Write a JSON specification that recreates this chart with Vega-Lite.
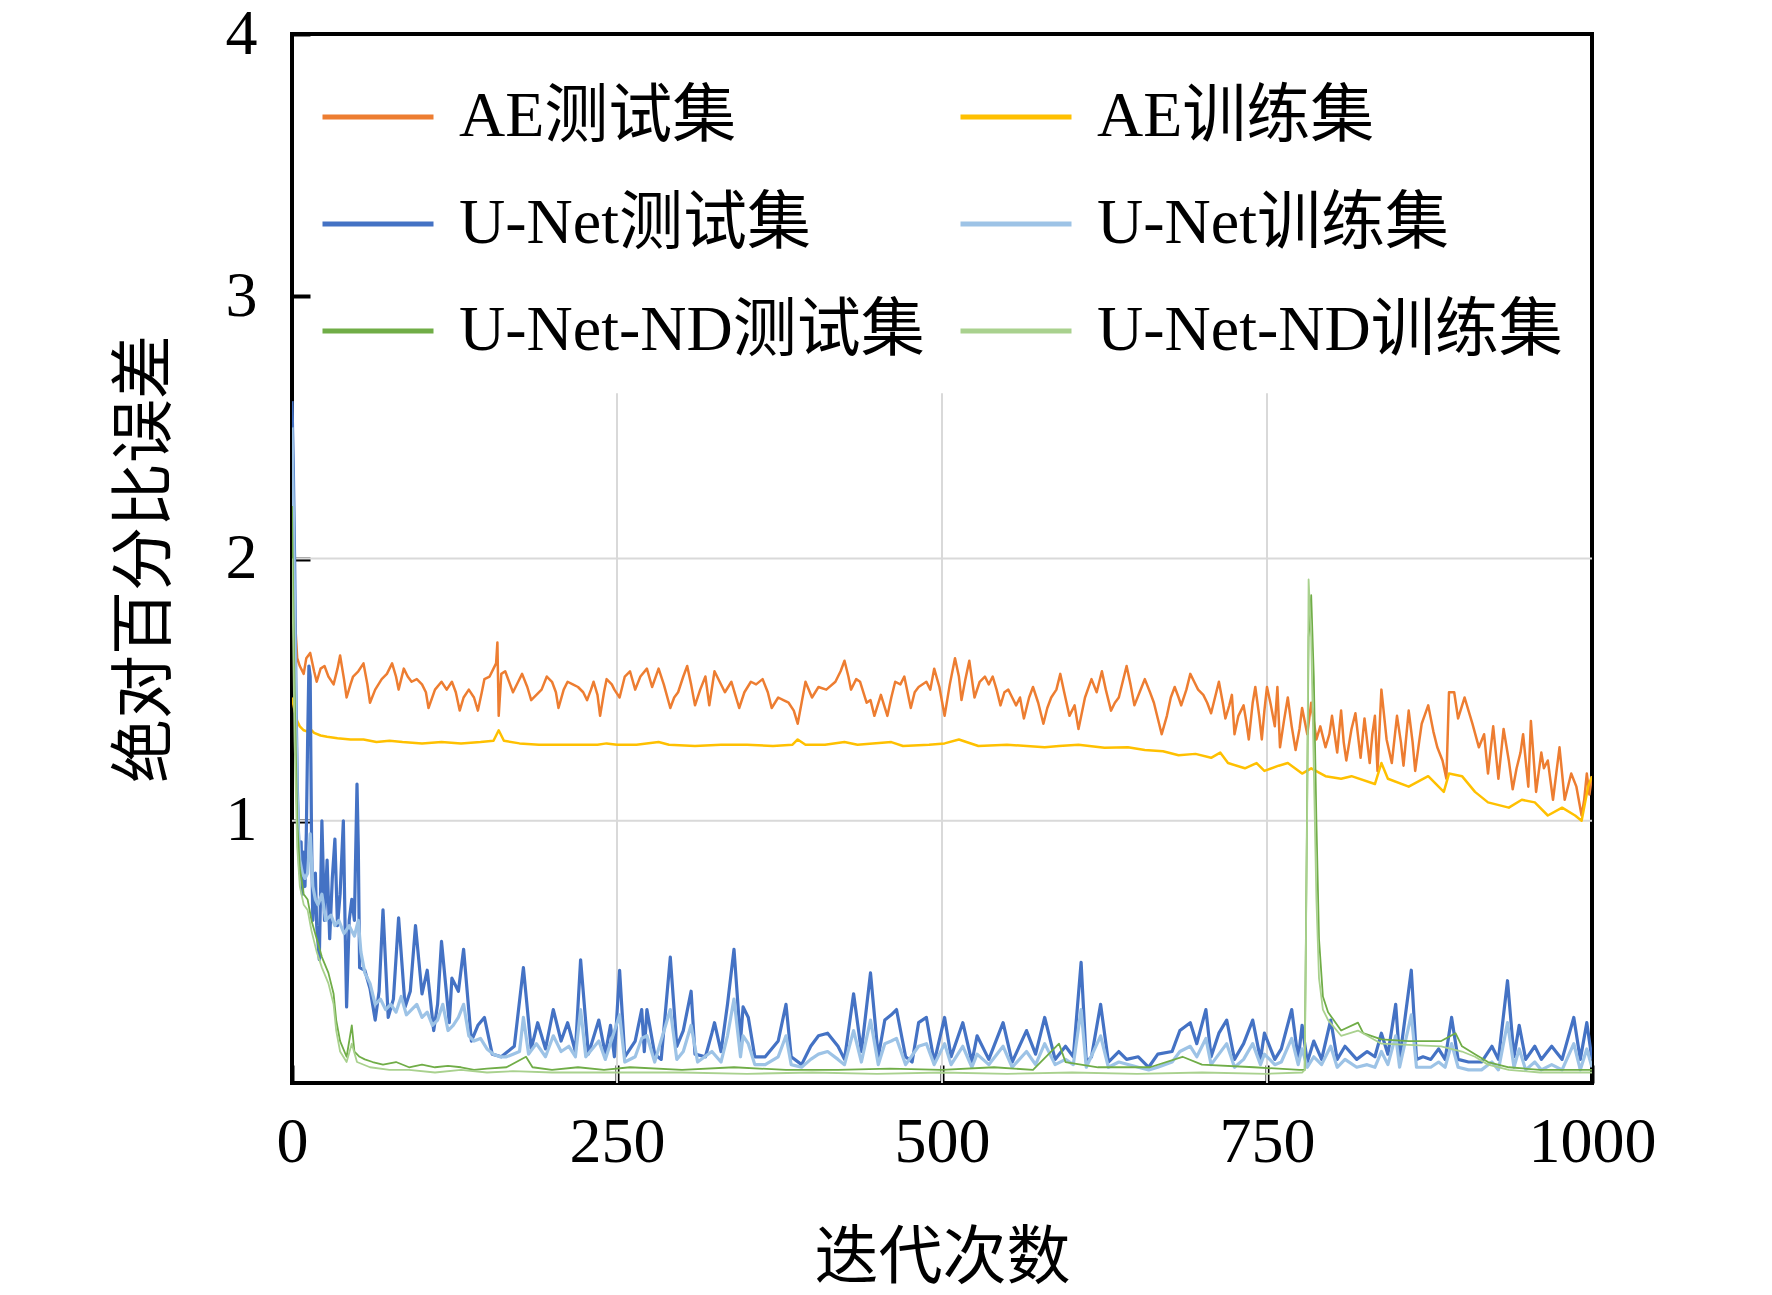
{
  "$schema": "https://vega.github.io/schema/vega-lite/v6.json",
  "width": 1300,
  "height": 1049,
  "autosize": "none",
  "padding": {"left": 292, "top": 34, "right": 180, "bottom": 212},
  "background": "white",
  "config": {
    "view": {"stroke": "black", "strokeWidth": 4},
    "axis": {"grid": false}
  },
  "datasets": {
    "grid_x": [{"g": 250}, {"g": 500}, {"g": 750}],
    "grid_y": [{"h": 1}, {"h": 2}],
    "curves": [
      {"name":"AE测试集","x":0,"y":1.75},{"name":"AE测试集","x":2,"y":1.79},{"name":"AE测试集","x":4,"y":1.62},{"name":"AE测试集","x":6,"y":1.59},{"name":"AE测试集","x":9,"y":1.56},{"name":"AE测试集","x":11,"y":1.62},{"name":"AE测试集","x":14,"y":1.64},{"name":"AE测试集","x":17,"y":1.57},{"name":"AE测试集","x":19,"y":1.53},{"name":"AE测试集","x":22,"y":1.58},{"name":"AE测试集","x":25,"y":1.59},{"name":"AE测试集","x":28,"y":1.55},{"name":"AE测试集","x":32,"y":1.52},{"name":"AE测试集","x":35,"y":1.58},{"name":"AE测试集","x":37,"y":1.63},{"name":"AE测试集","x":40,"y":1.54},{"name":"AE测试集","x":42,"y":1.47},{"name":"AE测试集","x":45,"y":1.52},{"name":"AE测试集","x":47,"y":1.55},{"name":"AE测试集","x":51,"y":1.57},{"name":"AE测试集","x":55,"y":1.6},{"name":"AE测试集","x":58,"y":1.52},{"name":"AE测试集","x":60,"y":1.45},{"name":"AE测试集","x":64,"y":1.5},{"name":"AE测试集","x":69,"y":1.54},{"name":"AE测试集","x":73,"y":1.56},{"name":"AE测试集","x":77,"y":1.6},{"name":"AE测试集","x":80,"y":1.55},{"name":"AE测试集","x":82,"y":1.5},{"name":"AE测试集","x":86,"y":1.58},{"name":"AE测试集","x":89,"y":1.55},{"name":"AE测试集","x":92,"y":1.53},{"name":"AE测试集","x":96,"y":1.54},{"name":"AE测试集","x":100,"y":1.52},{"name":"AE测试集","x":103,"y":1.49},{"name":"AE测试集","x":105,"y":1.43},{"name":"AE测试集","x":110,"y":1.5},{"name":"AE测试集","x":115,"y":1.53},{"name":"AE测试集","x":119,"y":1.5},{"name":"AE测试集","x":123,"y":1.53},{"name":"AE测试集","x":126,"y":1.49},{"name":"AE测试集","x":129,"y":1.42},{"name":"AE测试集","x":132,"y":1.47},{"name":"AE测试集","x":136,"y":1.5},{"name":"AE测试集","x":140,"y":1.47},{"name":"AE测试集","x":143,"y":1.42},{"name":"AE测试集","x":146,"y":1.49},{"name":"AE测试集","x":148,"y":1.54},{"name":"AE测试集","x":152,"y":1.55},{"name":"AE测试集","x":155,"y":1.58},{"name":"AE测试集","x":157,"y":1.6},{"name":"AE测试集","x":158,"y":1.68},{"name":"AE测试集","x":159,"y":1.4},{"name":"AE测试集","x":161,"y":1.56},{"name":"AE测试集","x":164,"y":1.57},{"name":"AE测试集","x":167,"y":1.53},{"name":"AE测试集","x":170,"y":1.49},{"name":"AE测试集","x":174,"y":1.53},{"name":"AE测试集","x":177,"y":1.56},{"name":"AE测试集","x":181,"y":1.51},{"name":"AE测试集","x":184,"y":1.46},{"name":"AE测试集","x":188,"y":1.48},{"name":"AE测试集","x":192,"y":1.5},{"name":"AE测试集","x":196,"y":1.55},{"name":"AE测试集","x":200,"y":1.53},{"name":"AE测试集","x":203,"y":1.49},{"name":"AE测试集","x":205,"y":1.43},{"name":"AE测试集","x":209,"y":1.5},{"name":"AE测试集","x":212,"y":1.53},{"name":"AE测试集","x":216,"y":1.52},{"name":"AE测试集","x":220,"y":1.51},{"name":"AE测试集","x":224,"y":1.49},{"name":"AE测试集","x":227,"y":1.46},{"name":"AE测试集","x":230,"y":1.5},{"name":"AE测试集","x":232,"y":1.53},{"name":"AE测试集","x":235,"y":1.48},{"name":"AE测试集","x":237,"y":1.4},{"name":"AE测试集","x":240,"y":1.49},{"name":"AE测试集","x":242,"y":1.54},{"name":"AE测试集","x":246,"y":1.52},{"name":"AE测试集","x":248,"y":1.5},{"name":"AE测试集","x":252,"y":1.47},{"name":"AE测试集","x":256,"y":1.55},{"name":"AE测试集","x":260,"y":1.57},{"name":"AE测试集","x":264,"y":1.5},{"name":"AE测试集","x":268,"y":1.55},{"name":"AE测试集","x":273,"y":1.58},{"name":"AE测试集","x":277,"y":1.51},{"name":"AE测试集","x":282,"y":1.58},{"name":"AE测试集","x":286,"y":1.52},{"name":"AE测试集","x":291,"y":1.43},{"name":"AE测试集","x":294,"y":1.47},{"name":"AE测试集","x":297,"y":1.49},{"name":"AE测试集","x":301,"y":1.55},{"name":"AE测试集","x":304,"y":1.59},{"name":"AE测试集","x":307,"y":1.52},{"name":"AE测试集","x":310,"y":1.44},{"name":"AE测试集","x":314,"y":1.5},{"name":"AE测试集","x":318,"y":1.55},{"name":"AE测试集","x":321,"y":1.44},{"name":"AE测试集","x":325,"y":1.57},{"name":"AE测试集","x":329,"y":1.53},{"name":"AE测试集","x":333,"y":1.49},{"name":"AE测试集","x":338,"y":1.53},{"name":"AE测试集","x":341,"y":1.48},{"name":"AE测试集","x":344,"y":1.43},{"name":"AE测试集","x":348,"y":1.49},{"name":"AE测试集","x":353,"y":1.53},{"name":"AE测试集","x":357,"y":1.52},{"name":"AE测试集","x":362,"y":1.54},{"name":"AE测试集","x":366,"y":1.49},{"name":"AE测试集","x":369,"y":1.43},{"name":"AE测试集","x":374,"y":1.47},{"name":"AE测试集","x":378,"y":1.46},{"name":"AE测试集","x":382,"y":1.45},{"name":"AE测试集","x":386,"y":1.42},{"name":"AE测试集","x":389,"y":1.37},{"name":"AE测试集","x":392,"y":1.45},{"name":"AE测试集","x":395,"y":1.53},{"name":"AE测试集","x":400,"y":1.47},{"name":"AE测试集","x":405,"y":1.51},{"name":"AE测试集","x":411,"y":1.5},{"name":"AE测试集","x":418,"y":1.53},{"name":"AE测试集","x":422,"y":1.57},{"name":"AE测试集","x":425,"y":1.61},{"name":"AE测试集","x":428,"y":1.55},{"name":"AE测试集","x":430,"y":1.5},{"name":"AE测试集","x":434,"y":1.54},{"name":"AE测试集","x":437,"y":1.53},{"name":"AE测试集","x":442,"y":1.45},{"name":"AE测试集","x":445,"y":1.46},{"name":"AE测试集","x":448,"y":1.4},{"name":"AE测试集","x":453,"y":1.48},{"name":"AE测试集","x":458,"y":1.4},{"name":"AE测试集","x":461,"y":1.47},{"name":"AE测试集","x":464,"y":1.53},{"name":"AE测试集","x":468,"y":1.52},{"name":"AE测试集","x":471,"y":1.55},{"name":"AE测试集","x":476,"y":1.43},{"name":"AE测试集","x":479,"y":1.49},{"name":"AE测试集","x":482,"y":1.51},{"name":"AE测试集","x":488,"y":1.53},{"name":"AE测试集","x":491,"y":1.5},{"name":"AE测试集","x":494,"y":1.58},{"name":"AE测试集","x":498,"y":1.51},{"name":"AE测试集","x":502,"y":1.4},{"name":"AE测试集","x":506,"y":1.52},{"name":"AE测试集","x":510,"y":1.62},{"name":"AE测试集","x":513,"y":1.55},{"name":"AE测试集","x":515,"y":1.46},{"name":"AE测试集","x":518,"y":1.54},{"name":"AE测试集","x":521,"y":1.61},{"name":"AE测试集","x":525,"y":1.47},{"name":"AE测试集","x":529,"y":1.53},{"name":"AE测试集","x":533,"y":1.55},{"name":"AE测试集","x":536,"y":1.52},{"name":"AE测试集","x":539,"y":1.55},{"name":"AE测试集","x":542,"y":1.5},{"name":"AE测试集","x":545,"y":1.44},{"name":"AE测试集","x":548,"y":1.49},{"name":"AE测试集","x":551,"y":1.5},{"name":"AE测试集","x":554,"y":1.47},{"name":"AE测试集","x":557,"y":1.44},{"name":"AE测试集","x":560,"y":1.47},{"name":"AE测试集","x":563,"y":1.39},{"name":"AE测试集","x":567,"y":1.47},{"name":"AE测试集","x":570,"y":1.51},{"name":"AE测试集","x":574,"y":1.45},{"name":"AE测试集","x":578,"y":1.37},{"name":"AE测试集","x":581,"y":1.43},{"name":"AE测试集","x":584,"y":1.47},{"name":"AE测试集","x":588,"y":1.5},{"name":"AE测试集","x":591,"y":1.56},{"name":"AE测试集","x":594,"y":1.49},{"name":"AE测试集","x":598,"y":1.4},{"name":"AE测试集","x":602,"y":1.44},{"name":"AE测试集","x":605,"y":1.35},{"name":"AE测试集","x":610,"y":1.47},{"name":"AE测试集","x":615,"y":1.54},{"name":"AE测试集","x":619,"y":1.49},{"name":"AE测试集","x":623,"y":1.57},{"name":"AE测试集","x":626,"y":1.5},{"name":"AE测试集","x":630,"y":1.42},{"name":"AE测试集","x":633,"y":1.45},{"name":"AE测试集","x":636,"y":1.47},{"name":"AE测试集","x":639,"y":1.53},{"name":"AE测试集","x":642,"y":1.59},{"name":"AE测试集","x":645,"y":1.52},{"name":"AE测试集","x":648,"y":1.44},{"name":"AE测试集","x":652,"y":1.49},{"name":"AE测试集","x":656,"y":1.54},{"name":"AE测试集","x":660,"y":1.49},{"name":"AE测试集","x":663,"y":1.45},{"name":"AE测试集","x":666,"y":1.39},{"name":"AE测试集","x":669,"y":1.33},{"name":"AE测试集","x":673,"y":1.4},{"name":"AE测试集","x":676,"y":1.47},{"name":"AE测试集","x":679,"y":1.51},{"name":"AE测试集","x":682,"y":1.47},{"name":"AE测试集","x":684,"y":1.44},{"name":"AE测试集","x":688,"y":1.5},{"name":"AE测试集","x":691,"y":1.56},{"name":"AE测试集","x":694,"y":1.53},{"name":"AE测试集","x":697,"y":1.5},{"name":"AE测试集","x":701,"y":1.48},{"name":"AE测试集","x":704,"y":1.45},{"name":"AE测试集","x":707,"y":1.41},{"name":"AE测试集","x":710,"y":1.47},{"name":"AE测试集","x":713,"y":1.53},{"name":"AE测试集","x":716,"y":1.45},{"name":"AE测试集","x":718,"y":1.39},{"name":"AE测试集","x":721,"y":1.44},{"name":"AE测试集","x":723,"y":1.48},{"name":"AE测试集","x":725,"y":1.33},{"name":"AE测试集","x":728,"y":1.4},{"name":"AE测试集","x":732,"y":1.44},{"name":"AE测试集","x":734,"y":1.38},{"name":"AE测试集","x":736,"y":1.31},{"name":"AE测试集","x":739,"y":1.45},{"name":"AE测试集","x":741,"y":1.51},{"name":"AE测试集","x":744,"y":1.4},{"name":"AE测试集","x":746,"y":1.31},{"name":"AE测试集","x":748,"y":1.42},{"name":"AE测试集","x":750,"y":1.51},{"name":"AE测试集","x":753,"y":1.44},{"name":"AE测试集","x":756,"y":1.36},{"name":"AE测试集","x":758,"y":1.51},{"name":"AE测试集","x":760,"y":1.28},{"name":"AE测试集","x":763,"y":1.38},{"name":"AE测试集","x":766,"y":1.47},{"name":"AE测试集","x":769,"y":1.36},{"name":"AE测试集","x":772,"y":1.27},{"name":"AE测试集","x":775,"y":1.35},{"name":"AE测试集","x":777,"y":1.43},{"name":"AE测试集","x":781,"y":1.33},{"name":"AE测试集","x":784,"y":1.45},{"name":"AE测试集","x":788,"y":1.31},{"name":"AE测试集","x":791,"y":1.36},{"name":"AE测试集","x":795,"y":1.28},{"name":"AE测试集","x":798,"y":1.33},{"name":"AE测试集","x":800,"y":1.4},{"name":"AE测试集","x":804,"y":1.26},{"name":"AE测试集","x":807,"y":1.42},{"name":"AE测试集","x":809,"y":1.3},{"name":"AE测试集","x":811,"y":1.23},{"name":"AE测试集","x":815,"y":1.35},{"name":"AE测试集","x":818,"y":1.41},{"name":"AE测试集","x":822,"y":1.24},{"name":"AE测试集","x":825,"y":1.39},{"name":"AE测试集","x":829,"y":1.22},{"name":"AE测试集","x":831,"y":1.33},{"name":"AE测试集","x":833,"y":1.4},{"name":"AE测试集","x":835,"y":1.19},{"name":"AE测试集","x":838,"y":1.5},{"name":"AE测试集","x":842,"y":1.31},{"name":"AE测试集","x":846,"y":1.22},{"name":"AE测试集","x":850,"y":1.4},{"name":"AE测试集","x":853,"y":1.3},{"name":"AE测试集","x":855,"y":1.21},{"name":"AE测试集","x":859,"y":1.42},{"name":"AE测试集","x":862,"y":1.3},{"name":"AE测试集","x":864,"y":1.19},{"name":"AE测试集","x":867,"y":1.3},{"name":"AE测试集","x":869,"y":1.37},{"name":"AE测试集","x":874,"y":1.44},{"name":"AE测试集","x":878,"y":1.34},{"name":"AE测试集","x":881,"y":1.28},{"name":"AE测试集","x":885,"y":1.23},{"name":"AE测试集","x":888,"y":1.16},{"name":"AE测试集","x":890,"y":1.49},{"name":"AE测试集","x":894,"y":1.49},{"name":"AE测试集","x":897,"y":1.39},{"name":"AE测试集","x":902,"y":1.47},{"name":"AE测试集","x":905,"y":1.42},{"name":"AE测试集","x":908,"y":1.37},{"name":"AE测试集","x":913,"y":1.28},{"name":"AE测试集","x":917,"y":1.33},{"name":"AE测试集","x":920,"y":1.18},{"name":"AE测试集","x":924,"y":1.36},{"name":"AE测试集","x":928,"y":1.16},{"name":"AE测试集","x":932,"y":1.35},{"name":"AE测试集","x":936,"y":1.23},{"name":"AE测试集","x":939,"y":1.12},{"name":"AE测试集","x":942,"y":1.2},{"name":"AE测试集","x":945,"y":1.26},{"name":"AE测试集","x":947,"y":1.33},{"name":"AE测试集","x":951,"y":1.13},{"name":"AE测试集","x":953,"y":1.38},{"name":"AE测试集","x":957,"y":1.11},{"name":"AE测试集","x":961,"y":1.26},{"name":"AE测试集","x":963,"y":1.2},{"name":"AE测试集","x":966,"y":1.23},{"name":"AE测试集","x":970,"y":1.08},{"name":"AE测试集","x":975,"y":1.28},{"name":"AE测试集","x":979,"y":1.08},{"name":"AE测试集","x":984,"y":1.18},{"name":"AE测试集","x":988,"y":1.13},{"name":"AE测试集","x":992,"y":1.02},{"name":"AE测试集","x":994,"y":1.08},{"name":"AE测试集","x":996,"y":1.18},{"name":"AE测试集","x":998,"y":1.1},{"name":"AE测试集","x":1000,"y":1.17},
      {"name":"AE训练集","x":0,"y":1.47},{"name":"AE训练集","x":2,"y":1.42},{"name":"AE训练集","x":4,"y":1.38},{"name":"AE训练集","x":6,"y":1.36},{"name":"AE训练集","x":9,"y":1.345},{"name":"AE训练集","x":12,"y":1.34},{"name":"AE训练集","x":14,"y":1.35},{"name":"AE训练集","x":17,"y":1.335},{"name":"AE训练集","x":22,"y":1.325},{"name":"AE训练集","x":27,"y":1.32},{"name":"AE训练集","x":35,"y":1.315},{"name":"AE训练集","x":45,"y":1.31},{"name":"AE训练集","x":55,"y":1.31},{"name":"AE训练集","x":65,"y":1.3},{"name":"AE训练集","x":75,"y":1.305},{"name":"AE训练集","x":85,"y":1.3},{"name":"AE训练集","x":100,"y":1.295},{"name":"AE训练集","x":115,"y":1.3},{"name":"AE训练集","x":130,"y":1.295},{"name":"AE训练集","x":145,"y":1.3},{"name":"AE训练集","x":155,"y":1.305},{"name":"AE训练集","x":159,"y":1.345},{"name":"AE训练集","x":163,"y":1.305},{"name":"AE训练集","x":175,"y":1.295},{"name":"AE训练集","x":190,"y":1.29},{"name":"AE训练集","x":205,"y":1.29},{"name":"AE训练集","x":220,"y":1.29},{"name":"AE训练集","x":235,"y":1.29},{"name":"AE训练集","x":242,"y":1.295},{"name":"AE训练集","x":250,"y":1.29},{"name":"AE训练集","x":265,"y":1.29},{"name":"AE训练集","x":282,"y":1.3},{"name":"AE训练集","x":290,"y":1.29},{"name":"AE训练集","x":310,"y":1.285},{"name":"AE训练集","x":330,"y":1.29},{"name":"AE训练集","x":350,"y":1.29},{"name":"AE训练集","x":370,"y":1.285},{"name":"AE训练集","x":385,"y":1.29},{"name":"AE训练集","x":389,"y":1.31},{"name":"AE训练集","x":395,"y":1.29},{"name":"AE训练集","x":410,"y":1.29},{"name":"AE训练集","x":425,"y":1.3},{"name":"AE训练集","x":435,"y":1.29},{"name":"AE训练集","x":461,"y":1.3},{"name":"AE训练集","x":470,"y":1.285},{"name":"AE训练集","x":490,"y":1.29},{"name":"AE训练集","x":502,"y":1.295},{"name":"AE训练集","x":513,"y":1.31},{"name":"AE训练集","x":528,"y":1.285},{"name":"AE训练集","x":550,"y":1.29},{"name":"AE训练集","x":579,"y":1.28},{"name":"AE训练集","x":590,"y":1.285},{"name":"AE训练集","x":605,"y":1.29},{"name":"AE训练集","x":625,"y":1.278},{"name":"AE训练集","x":643,"y":1.28},{"name":"AE训练集","x":656,"y":1.27},{"name":"AE训练集","x":670,"y":1.265},{"name":"AE训练集","x":682,"y":1.25},{"name":"AE训练集","x":695,"y":1.255},{"name":"AE训练集","x":707,"y":1.24},{"name":"AE训练集","x":714,"y":1.26},{"name":"AE训练集","x":720,"y":1.22},{"name":"AE训练集","x":733,"y":1.2},{"name":"AE训练集","x":742,"y":1.22},{"name":"AE训练集","x":748,"y":1.19},{"name":"AE训练集","x":759,"y":1.21},{"name":"AE训练集","x":766,"y":1.22},{"name":"AE训练集","x":777,"y":1.18},{"name":"AE训练集","x":784,"y":1.2},{"name":"AE训练集","x":795,"y":1.17},{"name":"AE训练集","x":807,"y":1.16},{"name":"AE训练集","x":815,"y":1.17},{"name":"AE训练集","x":833,"y":1.14},{"name":"AE训练集","x":838,"y":1.22},{"name":"AE训练集","x":843,"y":1.16},{"name":"AE训练集","x":859,"y":1.13},{"name":"AE训练集","x":874,"y":1.17},{"name":"AE训练集","x":886,"y":1.11},{"name":"AE训练集","x":890,"y":1.18},{"name":"AE训练集","x":900,"y":1.17},{"name":"AE训练集","x":910,"y":1.11},{"name":"AE训练集","x":920,"y":1.07},{"name":"AE训练集","x":936,"y":1.05},{"name":"AE训练集","x":946,"y":1.08},{"name":"AE训练集","x":956,"y":1.07},{"name":"AE训练集","x":966,"y":1.02},{"name":"AE训练集","x":977,"y":1.05},{"name":"AE训练集","x":987,"y":1.02},{"name":"AE训练集","x":992,"y":1.0},{"name":"AE训练集","x":997,"y":1.13},{"name":"AE训练集","x":1000,"y":1.17},
      {"name":"U-Net测试集","x":0,"y":2.6},{"name":"U-Net测试集","x":1,"y":2.35},{"name":"U-Net测试集","x":2,"y":2.0},{"name":"U-Net测试集","x":3,"y":1.5},{"name":"U-Net测试集","x":4,"y":1.15},{"name":"U-Net测试集","x":5,"y":0.95},{"name":"U-Net测试集","x":6,"y":0.8},{"name":"U-Net测试集","x":7,"y":0.92},{"name":"U-Net测试集","x":8,"y":0.72},{"name":"U-Net测试集","x":9,"y":0.88},{"name":"U-Net测试集","x":10,"y":0.75},{"name":"U-Net测试集","x":11,"y":0.95},{"name":"U-Net测试集","x":12,"y":1.3},{"name":"U-Net测试集","x":13,"y":1.59},{"name":"U-Net测试集","x":14,"y":1.55},{"name":"U-Net测试集","x":15,"y":0.95},{"name":"U-Net测试集","x":16,"y":0.62},{"name":"U-Net测试集","x":18,"y":0.8},{"name":"U-Net测试集","x":19,"y":0.6},{"name":"U-Net测试集","x":21,"y":0.47},{"name":"U-Net测试集","x":23,"y":1.0},{"name":"U-Net测试集","x":25,"y":0.62},{"name":"U-Net测试集","x":27,"y":0.85},{"name":"U-Net测试集","x":29,"y":0.55},{"name":"U-Net测试集","x":31,"y":0.78},{"name":"U-Net测试集","x":33,"y":0.93},{"name":"U-Net测试集","x":35,"y":0.6},{"name":"U-Net测试集","x":37,"y":0.72},{"name":"U-Net测试集","x":39.5,"y":1.0},{"name":"U-Net测试集","x":41,"y":0.55},{"name":"U-Net测试集","x":42,"y":0.29},{"name":"U-Net测试集","x":44,"y":0.62},{"name":"U-Net测试集","x":46,"y":0.7},{"name":"U-Net测试集","x":48,"y":0.62},{"name":"U-Net测试集","x":50,"y":1.14},{"name":"U-Net测试集","x":51,"y":0.9},{"name":"U-Net测试集","x":52,"y":0.44},{"name":"U-Net测试集","x":56,"y":0.43},{"name":"U-Net测试集","x":60,"y":0.36},{"name":"U-Net测试集","x":64,"y":0.24},{"name":"U-Net测试集","x":67,"y":0.35},{"name":"U-Net测试集","x":70,"y":0.66},{"name":"U-Net测试集","x":74,"y":0.25},{"name":"U-Net测试集","x":78,"y":0.32},{"name":"U-Net测试集","x":82,"y":0.63},{"name":"U-Net测试集","x":87,"y":0.29},{"name":"U-Net测试集","x":91,"y":0.35},{"name":"U-Net测试集","x":95,"y":0.6},{"name":"U-Net测试集","x":100,"y":0.34},{"name":"U-Net测试集","x":104,"y":0.43},{"name":"U-Net测试集","x":109,"y":0.2},{"name":"U-Net测试集","x":112,"y":0.3},{"name":"U-Net测试集","x":115,"y":0.54},{"name":"U-Net测试集","x":121,"y":0.23},{"name":"U-Net测试集","x":123,"y":0.4},{"name":"U-Net测试集","x":128,"y":0.35},{"name":"U-Net测试集","x":132,"y":0.51},{"name":"U-Net测试集","x":138,"y":0.16},{"name":"U-Net测试集","x":143,"y":0.22},{"name":"U-Net测试集","x":148,"y":0.25},{"name":"U-Net测试集","x":154,"y":0.11},{"name":"U-Net测试集","x":161,"y":0.1},{"name":"U-Net测试集","x":166,"y":0.12},{"name":"U-Net测试集","x":171,"y":0.14},{"name":"U-Net测试集","x":178,"y":0.44},{"name":"U-Net测试集","x":184,"y":0.13},{"name":"U-Net测试集","x":189,"y":0.23},{"name":"U-Net测试集","x":195,"y":0.13},{"name":"U-Net测试集","x":201,"y":0.28},{"name":"U-Net测试集","x":207,"y":0.16},{"name":"U-Net测试集","x":212,"y":0.23},{"name":"U-Net测试集","x":218,"y":0.12},{"name":"U-Net测试集","x":222,"y":0.47},{"name":"U-Net测试集","x":228,"y":0.11},{"name":"U-Net测试集","x":236,"y":0.24},{"name":"U-Net测试集","x":241,"y":0.11},{"name":"U-Net测试集","x":245,"y":0.22},{"name":"U-Net测试集","x":248,"y":0.1},{"name":"U-Net测试集","x":252,"y":0.43},{"name":"U-Net测试集","x":256,"y":0.1},{"name":"U-Net测试集","x":264,"y":0.16},{"name":"U-Net测试集","x":269,"y":0.28},{"name":"U-Net测试集","x":271,"y":0.12},{"name":"U-Net测试集","x":273,"y":0.28},{"name":"U-Net测试集","x":279,"y":0.11},{"name":"U-Net测试集","x":284,"y":0.09},{"name":"U-Net测试集","x":291,"y":0.48},{"name":"U-Net测试集","x":296,"y":0.14},{"name":"U-Net测试集","x":301,"y":0.2},{"name":"U-Net测试集","x":307,"y":0.35},{"name":"U-Net测试集","x":310,"y":0.11},{"name":"U-Net测试集","x":318,"y":0.1},{"name":"U-Net测试集","x":323,"y":0.19},{"name":"U-Net测试集","x":325,"y":0.23},{"name":"U-Net测试集","x":330,"y":0.12},{"name":"U-Net测试集","x":335,"y":0.3},{"name":"U-Net测试集","x":340,"y":0.51},{"name":"U-Net测试集","x":345,"y":0.16},{"name":"U-Net测试集","x":347,"y":0.29},{"name":"U-Net测试集","x":351,"y":0.25},{"name":"U-Net测试集","x":356,"y":0.1},{"name":"U-Net测试集","x":364,"y":0.1},{"name":"U-Net测试集","x":374,"y":0.16},{"name":"U-Net测试集","x":380,"y":0.3},{"name":"U-Net测试集","x":384,"y":0.1},{"name":"U-Net测试集","x":392,"y":0.07},{"name":"U-Net测试集","x":399,"y":0.14},{"name":"U-Net测试集","x":405,"y":0.18},{"name":"U-Net测试集","x":412,"y":0.19},{"name":"U-Net测试集","x":420,"y":0.14},{"name":"U-Net测试集","x":425,"y":0.09},{"name":"U-Net测试集","x":432,"y":0.34},{"name":"U-Net测试集","x":438,"y":0.12},{"name":"U-Net测试集","x":445,"y":0.42},{"name":"U-Net测试集","x":451,"y":0.1},{"name":"U-Net测试集","x":456,"y":0.24},{"name":"U-Net测试集","x":461,"y":0.26},{"name":"U-Net测试集","x":465,"y":0.28},{"name":"U-Net测试集","x":472,"y":0.1},{"name":"U-Net测试集","x":477,"y":0.08},{"name":"U-Net测试集","x":482,"y":0.23},{"name":"U-Net测试集","x":488,"y":0.25},{"name":"U-Net测试集","x":494,"y":0.08},{"name":"U-Net测试集","x":502,"y":0.25},{"name":"U-Net测试集","x":507,"y":0.1},{"name":"U-Net测试集","x":516,"y":0.23},{"name":"U-Net测试集","x":523,"y":0.08},{"name":"U-Net测试集","x":527,"y":0.18},{"name":"U-Net测试集","x":536,"y":0.09},{"name":"U-Net测试集","x":547,"y":0.23},{"name":"U-Net测试集","x":554,"y":0.08},{"name":"U-Net测试集","x":565,"y":0.2},{"name":"U-Net测试集","x":572,"y":0.11},{"name":"U-Net测试集","x":579,"y":0.25},{"name":"U-Net测试集","x":587,"y":0.09},{"name":"U-Net测试集","x":595,"y":0.14},{"name":"U-Net测试集","x":601,"y":0.1},{"name":"U-Net测试集","x":607,"y":0.46},{"name":"U-Net测试集","x":611,"y":0.08},{"name":"U-Net测试集","x":615,"y":0.1},{"name":"U-Net测试集","x":622,"y":0.3},{"name":"U-Net测试集","x":628,"y":0.08},{"name":"U-Net测试集","x":636,"y":0.12},{"name":"U-Net测试集","x":642,"y":0.09},{"name":"U-Net测试集","x":651,"y":0.1},{"name":"U-Net测试集","x":659,"y":0.06},{"name":"U-Net测试集","x":666,"y":0.11},{"name":"U-Net测试集","x":677,"y":0.12},{"name":"U-Net测试集","x":683,"y":0.2},{"name":"U-Net测试集","x":691,"y":0.23},{"name":"U-Net测试集","x":696,"y":0.15},{"name":"U-Net测试集","x":703,"y":0.28},{"name":"U-Net测试集","x":707,"y":0.1},{"name":"U-Net测试集","x":713,"y":0.19},{"name":"U-Net测试集","x":719,"y":0.24},{"name":"U-Net测试集","x":725,"y":0.09},{"name":"U-Net测试集","x":732,"y":0.15},{"name":"U-Net测试集","x":739,"y":0.24},{"name":"U-Net测试集","x":745,"y":0.09},{"name":"U-Net测试集","x":748,"y":0.19},{"name":"U-Net测试集","x":756,"y":0.09},{"name":"U-Net测试集","x":761,"y":0.13},{"name":"U-Net测试集","x":769,"y":0.28},{"name":"U-Net测试集","x":774,"y":0.09},{"name":"U-Net测试集","x":777,"y":0.22},{"name":"U-Net测试集","x":781,"y":0.08},{"name":"U-Net测试集","x":786,"y":0.16},{"name":"U-Net测试集","x":792,"y":0.09},{"name":"U-Net测试集","x":799,"y":0.24},{"name":"U-Net测试集","x":804,"y":0.09},{"name":"U-Net测试集","x":810,"y":0.14},{"name":"U-Net测试集","x":819,"y":0.09},{"name":"U-Net测试集","x":827,"y":0.12},{"name":"U-Net测试集","x":833,"y":0.1},{"name":"U-Net测试集","x":838,"y":0.19},{"name":"U-Net测试集","x":843,"y":0.11},{"name":"U-Net测试集","x":849,"y":0.3},{"name":"U-Net测试集","x":852,"y":0.09},{"name":"U-Net测试集","x":861,"y":0.43},{"name":"U-Net测试集","x":865,"y":0.09},{"name":"U-Net测试集","x":870,"y":0.1},{"name":"U-Net测试集","x":876,"y":0.09},{"name":"U-Net测试集","x":882,"y":0.13},{"name":"U-Net测试集","x":887,"y":0.09},{"name":"U-Net测试集","x":892,"y":0.25},{"name":"U-Net测试集","x":897,"y":0.09},{"name":"U-Net测试集","x":905,"y":0.08},{"name":"U-Net测试集","x":915,"y":0.08},{"name":"U-Net测试集","x":923,"y":0.14},{"name":"U-Net测试集","x":928,"y":0.09},{"name":"U-Net测试集","x":935,"y":0.39},{"name":"U-Net测试集","x":940,"y":0.1},{"name":"U-Net测试集","x":944,"y":0.22},{"name":"U-Net测试集","x":949,"y":0.09},{"name":"U-Net测试集","x":956,"y":0.14},{"name":"U-Net测试集","x":961,"y":0.09},{"name":"U-Net测试集","x":969,"y":0.14},{"name":"U-Net测试集","x":977,"y":0.09},{"name":"U-Net测试集","x":986,"y":0.25},{"name":"U-Net测试集","x":991,"y":0.09},{"name":"U-Net测试集","x":996,"y":0.23},{"name":"U-Net测试集","x":1000,"y":0.09},
      {"name":"U-Net训练集","x":0,"y":2.5},{"name":"U-Net训练集","x":1,"y":2.2},{"name":"U-Net训练集","x":2,"y":1.8},{"name":"U-Net训练集","x":3,"y":1.4},{"name":"U-Net训练集","x":4,"y":1.1},{"name":"U-Net训练集","x":5,"y":0.95},{"name":"U-Net训练集","x":6,"y":0.85},{"name":"U-Net训练集","x":8,"y":0.8},{"name":"U-Net训练集","x":10,"y":0.78},{"name":"U-Net训练集","x":12,"y":0.8},{"name":"U-Net训练集","x":14,"y":0.95},{"name":"U-Net训练集","x":16,"y":0.75},{"name":"U-Net训练集","x":18,"y":0.7},{"name":"U-Net训练集","x":20,"y":0.68},{"name":"U-Net训练集","x":23,"y":0.72},{"name":"U-Net训练集","x":26,"y":0.62},{"name":"U-Net训练集","x":30,"y":0.64},{"name":"U-Net训练集","x":33,"y":0.6},{"name":"U-Net训练集","x":36,"y":0.62},{"name":"U-Net训练集","x":40,"y":0.57},{"name":"U-Net训练集","x":44,"y":0.6},{"name":"U-Net训练集","x":48,"y":0.56},{"name":"U-Net训练集","x":51,"y":0.62},{"name":"U-Net训练集","x":53,"y":0.5},{"name":"U-Net训练集","x":56,"y":0.42},{"name":"U-Net训练集","x":60,"y":0.38},{"name":"U-Net训练集","x":64,"y":0.3},{"name":"U-Net训练集","x":68,"y":0.32},{"name":"U-Net训练集","x":72,"y":0.28},{"name":"U-Net训练集","x":76,"y":0.3},{"name":"U-Net训练集","x":80,"y":0.27},{"name":"U-Net训练集","x":84,"y":0.33},{"name":"U-Net训练集","x":88,"y":0.26},{"name":"U-Net训练集","x":92,"y":0.28},{"name":"U-Net训练集","x":96,"y":0.3},{"name":"U-Net训练集","x":100,"y":0.25},{"name":"U-Net训练集","x":104,"y":0.27},{"name":"U-Net训练集","x":108,"y":0.22},{"name":"U-Net训练集","x":112,"y":0.24},{"name":"U-Net训练集","x":116,"y":0.3},{"name":"U-Net训练集","x":120,"y":0.2},{"name":"U-Net训练集","x":124,"y":0.22},{"name":"U-Net训练集","x":128,"y":0.25},{"name":"U-Net训练集","x":132,"y":0.3},{"name":"U-Net训练集","x":136,"y":0.18},{"name":"U-Net训练集","x":140,"y":0.16},{"name":"U-Net训练集","x":145,"y":0.17},{"name":"U-Net训练集","x":150,"y":0.13},{"name":"U-Net训练集","x":155,"y":0.11},{"name":"U-Net训练集","x":160,"y":0.1},{"name":"U-Net训练集","x":165,"y":0.1},{"name":"U-Net训练集","x":170,"y":0.11},{"name":"U-Net训练集","x":175,"y":0.12},{"name":"U-Net训练集","x":178,"y":0.25},{"name":"U-Net训练集","x":182,"y":0.11},{"name":"U-Net训练集","x":188,"y":0.15},{"name":"U-Net训练集","x":195,"y":0.1},{"name":"U-Net训练集","x":201,"y":0.18},{"name":"U-Net训练集","x":207,"y":0.12},{"name":"U-Net训练集","x":213,"y":0.14},{"name":"U-Net训练集","x":218,"y":0.1},{"name":"U-Net训练集","x":222,"y":0.28},{"name":"U-Net训练集","x":226,"y":0.1},{"name":"U-Net训练集","x":236,"y":0.16},{"name":"U-Net训练集","x":241,"y":0.09},{"name":"U-Net训练集","x":252,"y":0.26},{"name":"U-Net训练集","x":256,"y":0.08},{"name":"U-Net训练集","x":264,"y":0.1},{"name":"U-Net训练集","x":269,"y":0.17},{"name":"U-Net训练集","x":273,"y":0.18},{"name":"U-Net训练集","x":279,"y":0.08},{"name":"U-Net训练集","x":291,"y":0.28},{"name":"U-Net训练集","x":296,"y":0.09},{"name":"U-Net训练集","x":301,"y":0.12},{"name":"U-Net训练集","x":307,"y":0.22},{"name":"U-Net训练集","x":312,"y":0.08},{"name":"U-Net训练集","x":323,"y":0.12},{"name":"U-Net训练集","x":330,"y":0.08},{"name":"U-Net训练集","x":335,"y":0.18},{"name":"U-Net训练集","x":340,"y":0.32},{"name":"U-Net训练集","x":345,"y":0.1},{"name":"U-Net训练集","x":347,"y":0.18},{"name":"U-Net训练集","x":351,"y":0.15},{"name":"U-Net训练集","x":356,"y":0.07},{"name":"U-Net训练集","x":364,"y":0.07},{"name":"U-Net训练集","x":374,"y":0.1},{"name":"U-Net训练集","x":380,"y":0.18},{"name":"U-Net训练集","x":384,"y":0.07},{"name":"U-Net训练集","x":392,"y":0.06},{"name":"U-Net训练集","x":399,"y":0.09},{"name":"U-Net训练集","x":405,"y":0.11},{"name":"U-Net训练集","x":412,"y":0.12},{"name":"U-Net训练集","x":420,"y":0.09},{"name":"U-Net训练集","x":425,"y":0.07},{"name":"U-Net训练集","x":432,"y":0.2},{"name":"U-Net训练集","x":438,"y":0.08},{"name":"U-Net训练集","x":445,"y":0.24},{"name":"U-Net训练集","x":451,"y":0.07},{"name":"U-Net训练集","x":456,"y":0.15},{"name":"U-Net训练集","x":461,"y":0.16},{"name":"U-Net训练集","x":465,"y":0.17},{"name":"U-Net训练集","x":472,"y":0.07},{"name":"U-Net训练集","x":482,"y":0.14},{"name":"U-Net训练集","x":488,"y":0.15},{"name":"U-Net训练集","x":494,"y":0.07},{"name":"U-Net训练集","x":502,"y":0.15},{"name":"U-Net训练集","x":507,"y":0.07},{"name":"U-Net训练集","x":516,"y":0.14},{"name":"U-Net训练集","x":523,"y":0.06},{"name":"U-Net训练集","x":527,"y":0.11},{"name":"U-Net训练集","x":536,"y":0.07},{"name":"U-Net训练集","x":547,"y":0.14},{"name":"U-Net训练集","x":554,"y":0.06},{"name":"U-Net训练集","x":565,"y":0.12},{"name":"U-Net训练集","x":572,"y":0.07},{"name":"U-Net训练集","x":579,"y":0.15},{"name":"U-Net训练集","x":587,"y":0.07},{"name":"U-Net训练集","x":595,"y":0.09},{"name":"U-Net训练集","x":601,"y":0.07},{"name":"U-Net训练集","x":607,"y":0.28},{"name":"U-Net训练集","x":611,"y":0.06},{"name":"U-Net训练集","x":622,"y":0.18},{"name":"U-Net训练集","x":628,"y":0.06},{"name":"U-Net训练集","x":636,"y":0.08},{"name":"U-Net训练集","x":651,"y":0.06},{"name":"U-Net训练集","x":659,"y":0.05},{"name":"U-Net训练集","x":666,"y":0.06},{"name":"U-Net训练集","x":677,"y":0.08},{"name":"U-Net训练集","x":683,"y":0.12},{"name":"U-Net训练集","x":691,"y":0.14},{"name":"U-Net训练集","x":696,"y":0.1},{"name":"U-Net训练集","x":703,"y":0.17},{"name":"U-Net训练集","x":707,"y":0.07},{"name":"U-Net训练集","x":713,"y":0.11},{"name":"U-Net训练集","x":719,"y":0.15},{"name":"U-Net训练集","x":725,"y":0.06},{"name":"U-Net训练集","x":732,"y":0.09},{"name":"U-Net训练集","x":739,"y":0.15},{"name":"U-Net训练集","x":745,"y":0.07},{"name":"U-Net训练集","x":748,"y":0.11},{"name":"U-Net训练集","x":756,"y":0.07},{"name":"U-Net训练集","x":761,"y":0.08},{"name":"U-Net训练集","x":769,"y":0.17},{"name":"U-Net训练集","x":774,"y":0.07},{"name":"U-Net训练集","x":777,"y":0.13},{"name":"U-Net训练集","x":781,"y":0.06},{"name":"U-Net训练集","x":786,"y":0.1},{"name":"U-Net训练集","x":792,"y":0.07},{"name":"U-Net训练集","x":799,"y":0.14},{"name":"U-Net训练集","x":804,"y":0.06},{"name":"U-Net训练集","x":810,"y":0.09},{"name":"U-Net训练集","x":819,"y":0.06},{"name":"U-Net训练集","x":827,"y":0.07},{"name":"U-Net训练集","x":833,"y":0.06},{"name":"U-Net训练集","x":838,"y":0.12},{"name":"U-Net训练集","x":843,"y":0.07},{"name":"U-Net训练集","x":849,"y":0.18},{"name":"U-Net训练集","x":852,"y":0.06},{"name":"U-Net训练集","x":861,"y":0.26},{"name":"U-Net训练集","x":865,"y":0.06},{"name":"U-Net训练集","x":876,"y":0.06},{"name":"U-Net训练集","x":882,"y":0.08},{"name":"U-Net训练集","x":887,"y":0.06},{"name":"U-Net训练集","x":892,"y":0.15},{"name":"U-Net训练集","x":897,"y":0.06},{"name":"U-Net训练集","x":905,"y":0.05},{"name":"U-Net训练集","x":915,"y":0.05},{"name":"U-Net训练集","x":923,"y":0.08},{"name":"U-Net训练集","x":928,"y":0.05},{"name":"U-Net训练集","x":935,"y":0.23},{"name":"U-Net训练集","x":940,"y":0.06},{"name":"U-Net训练集","x":944,"y":0.13},{"name":"U-Net训练集","x":949,"y":0.05},{"name":"U-Net训练集","x":956,"y":0.08},{"name":"U-Net训练集","x":961,"y":0.05},{"name":"U-Net训练集","x":969,"y":0.07},{"name":"U-Net训练集","x":977,"y":0.05},{"name":"U-Net训练集","x":986,"y":0.15},{"name":"U-Net训练集","x":991,"y":0.05},{"name":"U-Net训练集","x":996,"y":0.13},{"name":"U-Net训练集","x":1000,"y":0.06},
      {"name":"U-Net-ND测试集","x":0,"y":2.2},{"name":"U-Net-ND测试集","x":2,"y":1.5},{"name":"U-Net-ND测试集","x":4,"y":1.0},{"name":"U-Net-ND测试集","x":6,"y":0.82},{"name":"U-Net-ND测试集","x":9,"y":0.72},{"name":"U-Net-ND测试集","x":12,"y":0.7},{"name":"U-Net-ND测试集","x":15,"y":0.62},{"name":"U-Net-ND测试集","x":19,"y":0.55},{"name":"U-Net-ND测试集","x":23,"y":0.48},{"name":"U-Net-ND测试集","x":28,"y":0.42},{"name":"U-Net-ND测试集","x":32,"y":0.34},{"name":"U-Net-ND测试集","x":34,"y":0.24},{"name":"U-Net-ND测试集","x":37,"y":0.16},{"name":"U-Net-ND测试集","x":42,"y":0.1},{"name":"U-Net-ND测试集","x":46,"y":0.22},{"name":"U-Net-ND测试集","x":48,"y":0.12},{"name":"U-Net-ND测试集","x":52,"y":0.1},{"name":"U-Net-ND测试集","x":56,"y":0.09},{"name":"U-Net-ND测试集","x":62,"y":0.08},{"name":"U-Net-ND测试集","x":70,"y":0.07},{"name":"U-Net-ND测试集","x":80,"y":0.08},{"name":"U-Net-ND测试集","x":90,"y":0.06},{"name":"U-Net-ND测试集","x":100,"y":0.07},{"name":"U-Net-ND测试集","x":110,"y":0.06},{"name":"U-Net-ND测试集","x":120,"y":0.065},{"name":"U-Net-ND测试集","x":130,"y":0.06},{"name":"U-Net-ND测试集","x":140,"y":0.05},{"name":"U-Net-ND测试集","x":150,"y":0.055},{"name":"U-Net-ND测试集","x":165,"y":0.06},{"name":"U-Net-ND测试集","x":180,"y":0.1},{"name":"U-Net-ND测试集","x":185,"y":0.06},{"name":"U-Net-ND测试集","x":200,"y":0.05},{"name":"U-Net-ND测试集","x":220,"y":0.06},{"name":"U-Net-ND测试集","x":240,"y":0.05},{"name":"U-Net-ND测试集","x":260,"y":0.06},{"name":"U-Net-ND测试集","x":300,"y":0.05},{"name":"U-Net-ND测试集","x":340,"y":0.06},{"name":"U-Net-ND测试集","x":380,"y":0.05},{"name":"U-Net-ND测试集","x":420,"y":0.05},{"name":"U-Net-ND测试集","x":460,"y":0.055},{"name":"U-Net-ND测试集","x":500,"y":0.05},{"name":"U-Net-ND测试集","x":540,"y":0.06},{"name":"U-Net-ND测试集","x":570,"y":0.05},{"name":"U-Net-ND测试集","x":590,"y":0.15},{"name":"U-Net-ND测试集","x":595,"y":0.08},{"name":"U-Net-ND测试集","x":620,"y":0.06},{"name":"U-Net-ND测试集","x":660,"y":0.06},{"name":"U-Net-ND测试集","x":685,"y":0.1},{"name":"U-Net-ND测试集","x":700,"y":0.07},{"name":"U-Net-ND测试集","x":740,"y":0.06},{"name":"U-Net-ND测试集","x":775,"y":0.05},{"name":"U-Net-ND测试集","x":779,"y":0.05},{"name":"U-Net-ND测试集","x":780,"y":0.6},{"name":"U-Net-ND测试集","x":782,"y":1.7},{"name":"U-Net-ND测试集","x":784,"y":1.86},{"name":"U-Net-ND测试集","x":786,"y":1.55},{"name":"U-Net-ND测试集","x":788,"y":1.0},{"name":"U-Net-ND测试集","x":790,"y":0.55},{"name":"U-Net-ND测试集","x":793,"y":0.33},{"name":"U-Net-ND测试集","x":797,"y":0.27},{"name":"U-Net-ND测试集","x":807,"y":0.2},{"name":"U-Net-ND测试集","x":820,"y":0.23},{"name":"U-Net-ND测试集","x":824,"y":0.19},{"name":"U-Net-ND测试集","x":838,"y":0.166},{"name":"U-Net-ND测试集","x":859,"y":0.16},{"name":"U-Net-ND测试集","x":884,"y":0.16},{"name":"U-Net-ND测试集","x":895,"y":0.19},{"name":"U-Net-ND测试集","x":900,"y":0.14},{"name":"U-Net-ND测试集","x":910,"y":0.11},{"name":"U-Net-ND测试集","x":920,"y":0.08},{"name":"U-Net-ND测试集","x":936,"y":0.06},{"name":"U-Net-ND测试集","x":960,"y":0.05},{"name":"U-Net-ND测试集","x":1000,"y":0.05},
      {"name":"U-Net-ND训练集","x":0,"y":2.0},{"name":"U-Net-ND训练集","x":2,"y":1.3},{"name":"U-Net-ND训练集","x":4,"y":0.9},{"name":"U-Net-ND训练集","x":6,"y":0.75},{"name":"U-Net-ND训练集","x":9,"y":0.68},{"name":"U-Net-ND训练集","x":12,"y":0.66},{"name":"U-Net-ND训练集","x":15,"y":0.58},{"name":"U-Net-ND训练集","x":19,"y":0.5},{"name":"U-Net-ND训练集","x":23,"y":0.44},{"name":"U-Net-ND训练集","x":28,"y":0.38},{"name":"U-Net-ND训练集","x":32,"y":0.3},{"name":"U-Net-ND训练集","x":34,"y":0.2},{"name":"U-Net-ND训练集","x":37,"y":0.12},{"name":"U-Net-ND训练集","x":42,"y":0.08},{"name":"U-Net-ND训练集","x":46,"y":0.15},{"name":"U-Net-ND训练集","x":50,"y":0.08},{"name":"U-Net-ND训练集","x":60,"y":0.06},{"name":"U-Net-ND训练集","x":75,"y":0.05},{"name":"U-Net-ND训练集","x":90,"y":0.05},{"name":"U-Net-ND训练集","x":110,"y":0.04},{"name":"U-Net-ND训练集","x":130,"y":0.05},{"name":"U-Net-ND训练集","x":150,"y":0.04},{"name":"U-Net-ND训练集","x":170,"y":0.045},{"name":"U-Net-ND训练集","x":200,"y":0.04},{"name":"U-Net-ND训练集","x":250,"y":0.04},{"name":"U-Net-ND训练集","x":300,"y":0.04},{"name":"U-Net-ND训练集","x":350,"y":0.035},{"name":"U-Net-ND训练集","x":400,"y":0.04},{"name":"U-Net-ND训练集","x":450,"y":0.035},{"name":"U-Net-ND训练集","x":500,"y":0.04},{"name":"U-Net-ND训练集","x":550,"y":0.035},{"name":"U-Net-ND训练集","x":600,"y":0.04},{"name":"U-Net-ND训练集","x":650,"y":0.035},{"name":"U-Net-ND训练集","x":700,"y":0.04},{"name":"U-Net-ND训练集","x":750,"y":0.035},{"name":"U-Net-ND训练集","x":777,"y":0.04},{"name":"U-Net-ND训练集","x":779,"y":0.05},{"name":"U-Net-ND训练集","x":781,"y":1.1},{"name":"U-Net-ND训练集","x":782,"y":1.92},{"name":"U-Net-ND训练集","x":784,"y":1.7},{"name":"U-Net-ND训练集","x":786,"y":1.2},{"name":"U-Net-ND训练集","x":788,"y":0.7},{"name":"U-Net-ND训练集","x":790,"y":0.4},{"name":"U-Net-ND训练集","x":793,"y":0.28},{"name":"U-Net-ND训练集","x":797,"y":0.24},{"name":"U-Net-ND训练集","x":807,"y":0.18},{"name":"U-Net-ND训练集","x":820,"y":0.2},{"name":"U-Net-ND训练集","x":838,"y":0.15},{"name":"U-Net-ND训练集","x":859,"y":0.145},{"name":"U-Net-ND训练集","x":884,"y":0.14},{"name":"U-Net-ND训练集","x":900,"y":0.12},{"name":"U-Net-ND训练集","x":910,"y":0.1},{"name":"U-Net-ND训练集","x":920,"y":0.07},{"name":"U-Net-ND训练集","x":936,"y":0.05},{"name":"U-Net-ND训练集","x":960,"y":0.04},{"name":"U-Net-ND训练集","x":1000,"y":0.04}
    ]
  },
  "layer": [
    {
      "data": {"name": "grid_x"},
      "mark": {"type": "rule", "color": "#d9d9d9", "strokeWidth": 2},
      "encoding": {
        "x": {"field": "g", "type": "quantitative", "scale": {"domain": [0, 1000], "nice": false},
          "axis": {"title": "迭代次数", "values": [0, 250, 500, 750, 1000], "format": "d", "grid": false, "domain": false, "tickColor": "black", "tickWidth": 4, "tickSize": -18, "labelFont": "Liberation Serif", "labelFontSize": 64, "labelColor": "black", "labelPadding": 45, "labelFlush": false, "labelOverlap": false, "titleFont": "Noto Sans CJK SC", "titleFontSize": 64, "titleFontWeight": "normal", "titleColor": "black", "titlePadding": 52}},
        "y": {"datum": 0, "type": "quantitative", "scale": {"domain": [0, 4], "nice": false},
          "axis": {"title": "绝对百分比误差", "values": [1, 2, 3, 4], "format": "d", "grid": false, "domain": false, "tickColor": "black", "tickWidth": 4, "tickSize": -18, "labelFont": "Liberation Serif", "labelFontSize": 64, "labelColor": "black", "labelPadding": 53, "labelFlush": false, "labelOverlap": false, "titleFont": "Noto Sans CJK SC", "titleFontSize": 64, "titleFontWeight": "normal", "titleColor": "black", "titlePadding": 48}},
        "y2": {"datum": 2.63}
      }
    },
    {
      "data": {"name": "grid_y"},
      "mark": {"type": "rule", "color": "#d9d9d9", "strokeWidth": 2},
      "encoding": {
        "y": {"field": "h", "type": "quantitative", "title": "绝对百分比误差"},
        "x": {"datum": 0, "type": "quantitative"},
        "x2": {"datum": 1000}
      }
    },
    {
      "data": {"name": "curves"},
      "transform": [{"filter": {"field": "name", "oneOf": ["AE测试集", "AE训练集"]}}],
      "mark": {"type": "line", "strokeJoin": "round", "strokeWidth": 2.5, "clip": true},
      "encoding": {
        "x": {"field": "x", "type": "quantitative", "title": "迭代次数"},
        "y": {"field": "y", "type": "quantitative", "title": "绝对百分比误差"},
        "color": {
          "field": "name", "type": "nominal",
          "scale": {
            "domain": ["AE测试集", "AE训练集", "U-Net测试集", "U-Net训练集", "U-Net-ND测试集", "U-Net-ND训练集"],
            "range": ["#ED7D31", "#FFC000", "#4472C4", "#9DC3E6", "#70AD47", "#A9D18E"]
          },
          "legend": {
            "title": null, "orient": "none", "legendX": 28, "legendY": 25, "columns": 2, "direction": "horizontal",
            "symbolType": "stroke", "symbolSize": 12321, "symbolStrokeWidth": 5,
            "labelFont": "Liberation Serif, Noto Sans CJK SC", "labelFontSize": 64, "labelColor": "black",
            "labelOffset": 23, "labelLimit": 1000, "columnPadding": 25, "rowPadding": 17, "padding": 0
          }
        }
      }
    },
    {
      "data": {"name": "curves"},
      "transform": [{"filter": {"field": "name", "oneOf": ["U-Net测试集", "U-Net训练集"]}}],
      "mark": {"type": "line", "strokeJoin": "round", "strokeWidth": 3.2, "clip": true},
      "encoding": {
        "x": {"field": "x", "type": "quantitative", "title": "迭代次数"},
        "y": {"field": "y", "type": "quantitative", "title": "绝对百分比误差"},
        "color": {"field": "name", "type": "nominal"}
      }
    },
    {
      "data": {"name": "curves"},
      "transform": [{"filter": {"field": "name", "oneOf": ["U-Net-ND测试集", "U-Net-ND训练集"]}}],
      "mark": {"type": "line", "strokeJoin": "round", "strokeWidth": 1.8, "clip": true},
      "encoding": {
        "x": {"field": "x", "type": "quantitative", "title": "迭代次数"},
        "y": {"field": "y", "type": "quantitative", "title": "绝对百分比误差"},
        "color": {"field": "name", "type": "nominal"}
      }
    }
  ]
}
